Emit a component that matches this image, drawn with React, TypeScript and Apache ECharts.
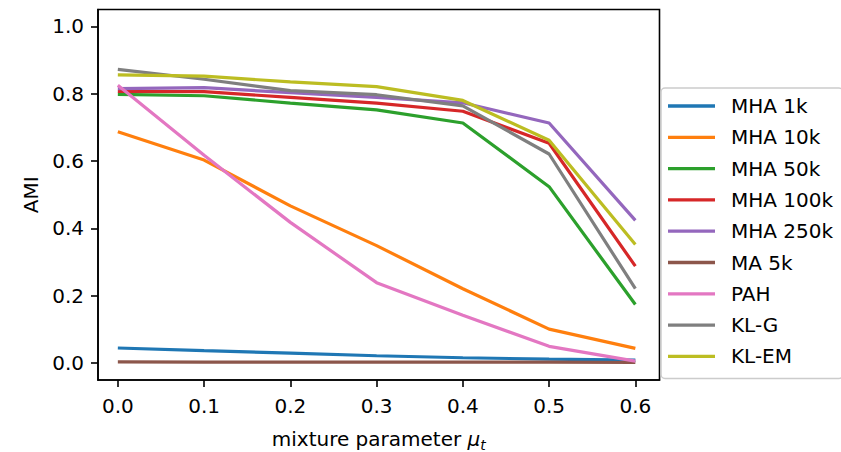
import React, { useEffect, useRef } from "react";
import * as echarts from "echarts";

const mu = [0, 0.1, 0.2, 0.3, 0.4, 0.5, 0.6];
const seriesNames = ["MHA 1k", "MHA 10k", "MHA 50k", "MHA 100k", "MHA 250k", "MA 5k", "PAH", "KL-G", "KL-EM"];
const mha1k = [0.045, 0.037, 0.030, 0.022, 0.016, 0.012, 0.009];
const mha10k = [0.687, 0.603, 0.467, 0.349, 0.221, 0.101, 0.044];
const mha50k = [0.798, 0.794, 0.772, 0.752, 0.713, 0.524, 0.174];
const mha100k = [0.807, 0.806, 0.789, 0.772, 0.748, 0.653, 0.288];
const mha250k = [0.815, 0.818, 0.803, 0.789, 0.773, 0.713, 0.424];
const ma5k = [0.004, 0.003, 0.003, 0.003, 0.003, 0.003, 0.002];
const pah = [0.825, 0.617, 0.418, 0.239, 0.142, 0.050, 0.006];
const klg = [0.872, 0.843, 0.809, 0.797, 0.764, 0.621, 0.221];
const klem = [0.856, 0.852, 0.835, 0.821, 0.780, 0.662, 0.352];
const xTicks = [0, 0.1, 0.2, 0.3, 0.4, 0.5, 0.6];
const yTicks = [0, 0.2, 0.4, 0.6, 0.8, 1.0];

const colors = ["#1f77b4", "#ff7f0e", "#2ca02c", "#d62728", "#9467bd", "#8c564b", "#e377c2", "#7f7f7f", "#bcbd22"];
const allData = [mha1k, mha10k, mha50k, mha100k, mha250k, ma5k, pah, klg, klem];

const FONT = "DejaVu Sans";
const FS = 20;

export default function App() {
  const ref = useRef<HTMLDivElement>(null);
  useEffect(() => {
    document.body.style.margin = "0";
    const chart = echarts.init(ref.current!, null, { renderer: "svg" });
    chart.setOption({
      animation: false,
      backgroundColor: "#fff",
      textStyle: { fontFamily: FONT },
      grid: {
        left: 98,
        top: 9.5,
        width: 561.5,
        height: 370.5,
        show: true,
        borderColor: "#000",
        borderWidth: 1.6,
        containLabel: false,
        outerBoundsMode: "none",
      },
      xAxis: {
        type: "value",
        min: -0.023,
        max: 0.628,
        name: "mixture parameter {m|μ}{s|t}",
        nameLocation: "middle",
        nameGap: 46,
        nameTextStyle: {
          fontFamily: FONT,
          fontSize: FS,
          color: "#000",
          rich: {
            m: { fontFamily: FONT, fontSize: FS, fontStyle: "italic", color: "#000" },
            s: { fontFamily: FONT, fontSize: 14, fontStyle: "italic", color: "#000", padding: [12, 0, 0, 0] },
          },
        },
        axisLine: { show: true, onZero: false, lineStyle: { color: "#000", width: 1.6 } },
        axisTick: { show: true, length: 7, lineStyle: { color: "#000", width: 1.6 }, customValues: xTicks },
        axisLabel: {
          fontFamily: FONT,
          fontSize: FS,
          color: "#000",
          margin: 16,
          customValues: xTicks,
          formatter: (v: number) => v.toFixed(1),
        },
        splitLine: { show: false },
      },
      yAxis: {
        type: "value",
        min: -0.05,
        max: 1.05,
        name: "AMI",
        nameLocation: "middle",
        nameGap: 55,
        nameRotate: 90,
        nameTextStyle: { fontFamily: FONT, fontSize: FS, color: "#000" },
        axisLine: { show: true, onZero: false, lineStyle: { color: "#000", width: 1.6 } },
        axisTick: { show: true, length: 7, lineStyle: { color: "#000", width: 1.6 }, customValues: yTicks },
        axisLabel: {
          fontFamily: FONT,
          fontSize: FS,
          color: "#000",
          margin: 14,
          customValues: yTicks,
          formatter: (v: number) => v.toFixed(1),
        },
        splitLine: { show: false },
      },
      legend: {
        orient: "vertical",
        left: 661,
        top: 88,
        data: seriesNames,
        icon: "rect",
        itemWidth: 47,
        itemHeight: 3.3,
        itemGap: 11.3,
        padding: [8, 10, 12, 7],
        borderColor: "#cccccc",
        borderWidth: 1.5,
        borderRadius: 4,
        backgroundColor: "rgba(255,255,255,0.8)",
        textStyle: {
          fontFamily: FONT,
          fontSize: FS,
          color: "#000",
          lineHeight: 20,
          padding: [0, 0, 0, 11],
        },
      },
      series: seriesNames.map((name, i) => ({
        name,
        type: "line",
        data: mu.map((x, j) => [x, allData[i][j]]),
        showSymbol: false,
        symbol: "none",
        color: colors[i],
        lineStyle: { color: colors[i], width: 3.2 },
        itemStyle: { color: colors[i] },
        clip: false,
      })),
    });
    return () => chart.dispose();
  }, []);
  return (
    <div
      ref={ref}
      style={{ position: "fixed", left: 0, top: 0, width: 841, height: 452 }}
    />
  );
}
